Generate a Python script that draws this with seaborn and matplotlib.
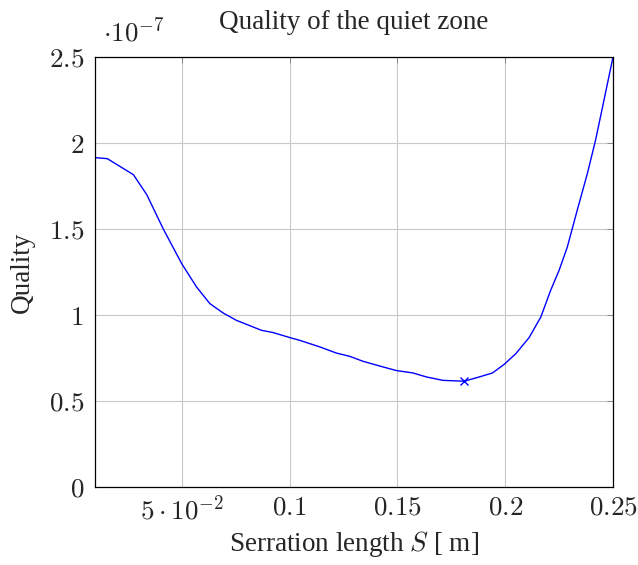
import numpy as np
import pandas as pd
import seaborn as sns
import matplotlib
matplotlib.use("Agg")
import matplotlib.pyplot as plt
from matplotlib.ticker import FixedLocator

# serration length [m]
serration = [0.0097, 0.0154, 0.0275, 0.0337, 0.0413, 0.0499, 0.0568, 0.0630,
             0.0691, 0.0753, 0.0869, 0.0923, 0.1000, 0.1046, 0.1139, 0.1216,
             0.1278, 0.1340, 0.1419, 0.1495, 0.1572, 0.1634, 0.1711, 0.1810,
             0.1880, 0.1941, 0.1995, 0.2049, 0.2111, 0.2165, 0.2211, 0.2250,
             0.2288, 0.2334, 0.2381, 0.2419, 0.2458, 0.2500]
# quality (x 1e-7)
quality = [1.915, 1.909, 1.816, 1.700, 1.502, 1.299, 1.163, 1.066,
           1.012, 0.969, 0.911, 0.898, 0.869, 0.853, 0.815, 0.779,
           0.760, 0.731, 0.703, 0.677, 0.663, 0.640, 0.620, 0.615,
           0.640, 0.663, 0.713, 0.775, 0.869, 0.988, 1.144, 1.260,
           1.395, 1.609, 1.822, 2.016, 2.248, 2.500]
best_s = 0.1810
best_q = 0.615

xticks = [0.05, 0.1, 0.15, 0.2, 0.25]
xticklabels = [r"$5\cdot10^{-2}$", r"$0.1$", r"$0.15$", r"$0.2$", r"$0.25$"]
yticks = [0, 0.5, 1, 1.5, 2, 2.5]
yticklabels = [r"$0$", r"$0.5$", r"$1$", r"$1.5$", r"$2$", r"$2.5$"]

df = pd.DataFrame({"S": serration, "Q": np.array(quality) * 1e-7})

sns.set_style("white")
plt.rcParams["font.family"] = ["Liberation Serif", "DejaVu Serif"]
plt.rcParams["mathtext.fontset"] = "cm"

fs = 19.5
fig = plt.figure(figsize=(6.38, 5.65), dpi=100)
ax = fig.add_axes([95 / 638, 1 - 487 / 565, 518 / 638, 430 / 565])

sns.lineplot(data=df, x="S", y="Q", ax=ax, color="#0000ff", linewidth=1.0)
ax.plot([best_s], [best_q * 1e-7], marker="x", color="#0000ff",
        markersize=6, markeredgewidth=1.0, linestyle="none")

ax.set_xlim(0.0097, 0.25)
ax.set_ylim(0, 2.5e-7)
ax.xaxis.set_major_locator(FixedLocator(xticks))
ax.set_xticklabels(xticklabels)
ax.yaxis.set_major_locator(FixedLocator([v * 1e-7 for v in yticks]))
ax.set_yticklabels(yticklabels)
ax.tick_params(axis="both", direction="in", length=4, width=0.6,
               color="#808080", labelsize=fs, pad=8,
               top=True, right=True)
ax.tick_params(axis="x", pad=6)
ax.grid(True, color="#c8c8c8", linewidth=0.8)
for sp in ax.spines.values():
    sp.set_color("black")
    sp.set_linewidth(0.9)

ax.set_xlabel(r"Serration length $S$ [ m]", fontsize=fs, labelpad=3)
ax.set_ylabel("Quality", fontsize=fs, labelpad=10)
ax.set_title("Quality of the quiet zone", fontsize=fs, pad=20)
fig.text(103 / 638, 1 - 32 / 565, r"$\cdot10^{-7}$", fontsize=fs,
         va="center", ha="left")

fig.savefig("out.png", dpi=100)
